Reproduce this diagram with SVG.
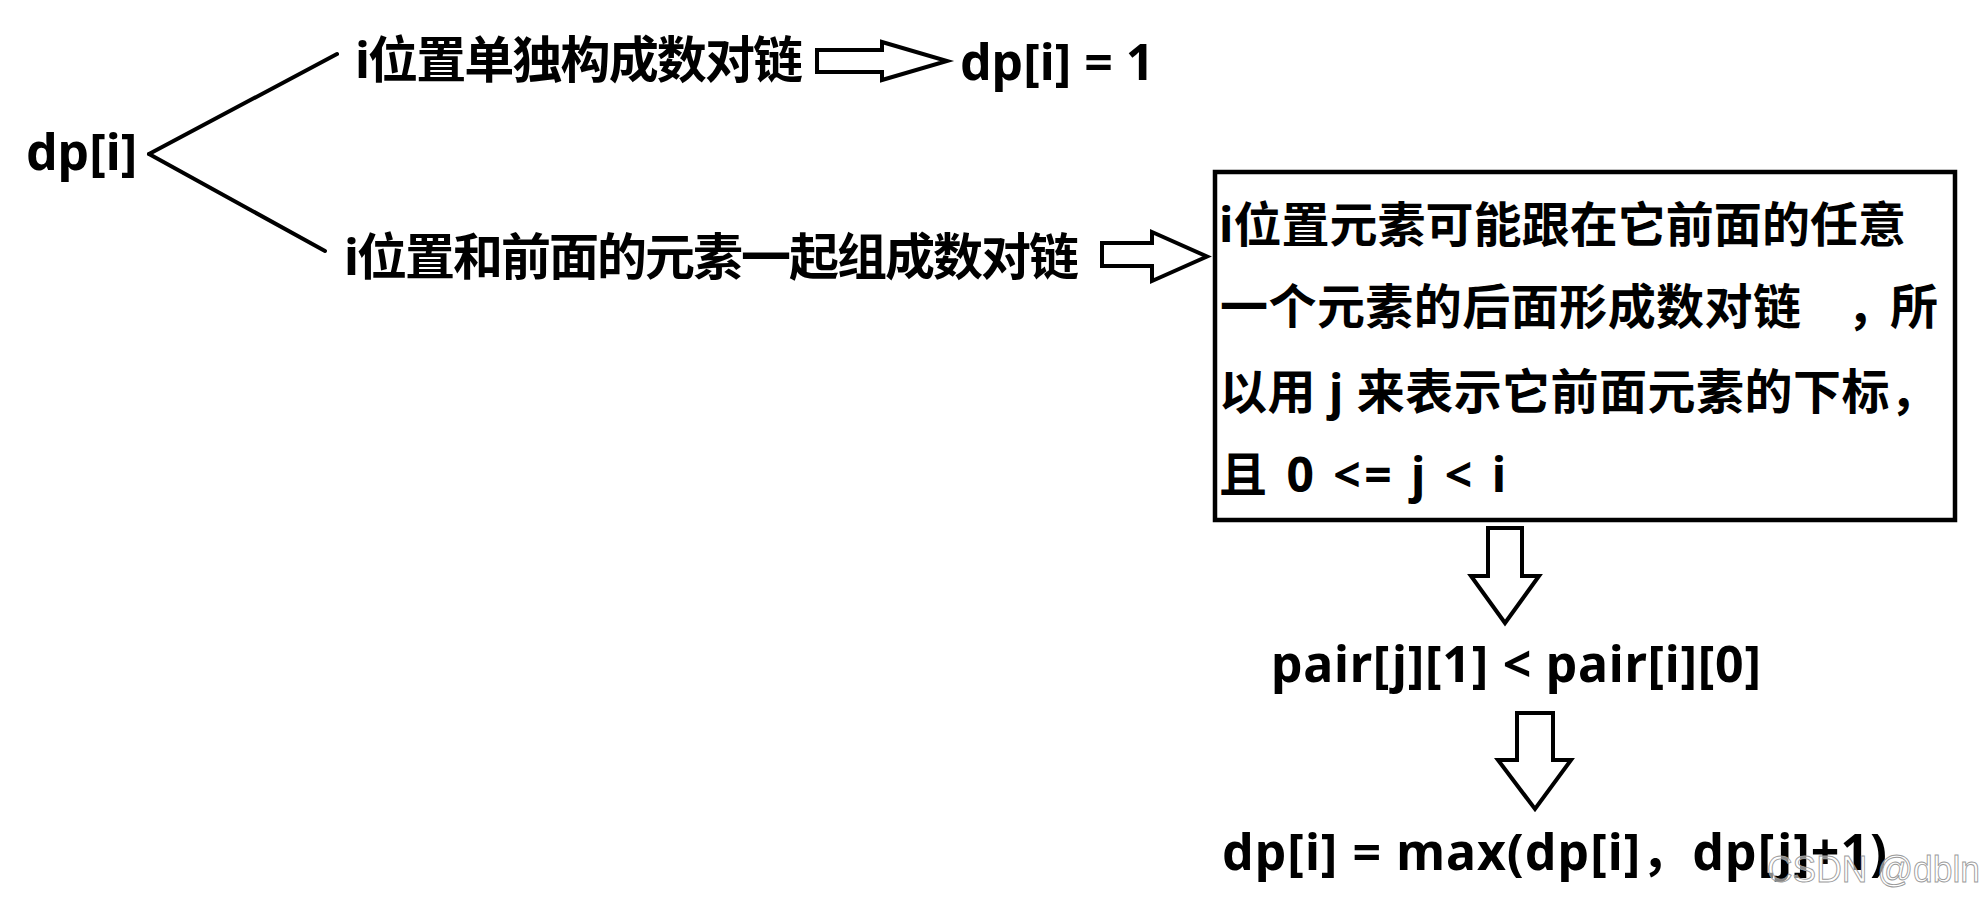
<svg xmlns="http://www.w3.org/2000/svg" width="1987" height="905" viewBox="0 0 1987 905">
<style>
.t{font-family:"Noto Sans","Noto Sans CJK SC",sans-serif;font-weight:bold;fill:#000;}
.s50{font-size:50px;}
.s48{font-size:48px;}
.ln{stroke:#000;stroke-width:4;fill:none;stroke-linecap:round;}
.ar{stroke:#000;stroke-width:4;fill:#fff;stroke-linejoin:miter;}
.box{stroke:#000;stroke-width:4.5;fill:#fff;}
.wm{font-family:"Liberation Sans",sans-serif;font-size:36px;fill:#fff;fill-opacity:0.55;stroke:#9a9a9a;stroke-width:0.9;}
</style>
<rect width="1987" height="905" fill="#fff"/>
<g id="connectors">
<line class="ln" x1="149" y1="154" x2="337" y2="54"/>
<line class="ln" x1="149" y1="154" x2="325" y2="251"/>
<polygon class="ar" points="817,50 882,50 882,42 947,61 882,80 882,72 817,72"/>
<polygon class="ar" points="1102,243 1152,243 1152,232 1207,256.5 1152,281 1152,266 1102,266"/>
<polygon class="ar" points="1488,528 1522,528 1522,576 1539,576 1505,623 1471,576 1488,576"/>
<polygon class="ar" points="1517,713 1553,713 1553,760 1571,760 1535,809 1498,760 1517,760"/>
</g>
<g id="node-dp">
<text class="t s50" x="26" y="170">dp[i]</text>
</g>
<g id="node-single">
<text class="t s50" x="355" y="78" textLength="448" lengthAdjust="spacing">i位置单独构成数对链</text>
</g>
<g id="node-dp1">
<text class="t s50" x="960" y="80">dp[i] = 1</text>
</g>
<g id="node-together">
<text class="t s50" x="344" y="275" textLength="735" lengthAdjust="spacing">i位置和前面的元素一起组成数对链</text>
</g>
<g id="node-box">
<rect class="box" x="1215" y="172" width="740" height="348"/>
<text class="t s48" x="1219" y="242" textLength="687" lengthAdjust="spacing">i位置元素可能跟在它前面的任意</text>
<text class="t s48" y="324"><tspan x="1220" textLength="581" lengthAdjust="spacing">一个元素的后面形成数对链</tspan><tspan x="1847">，</tspan><tspan x="1890">所</tspan></text>
<text class="t s48" x="1219" y="409" textLength="719" lengthAdjust="spacing">以用 j 来表示它前面元素的下标，</text>
<text class="t s48" x="1219" y="492" textLength="287" lengthAdjust="spacing">且 0 &lt;= j &lt; i</text>
</g>
<g id="node-pair">
<text class="t s50" x="1271" y="682" textLength="490" lengthAdjust="spacing">pair[j][1] &lt; pair[i][0]</text>
</g>
<g id="node-result">
<text class="t s50" x="1222" y="870" textLength="665" lengthAdjust="spacing">dp[i] = max(dp[i]，dp[j]+1)</text>
</g>
<g id="watermark">
<text class="wm" x="1767" y="882" textLength="213" lengthAdjust="spacingAndGlyphs">CSDN @dbln</text>
</g>
</svg>
